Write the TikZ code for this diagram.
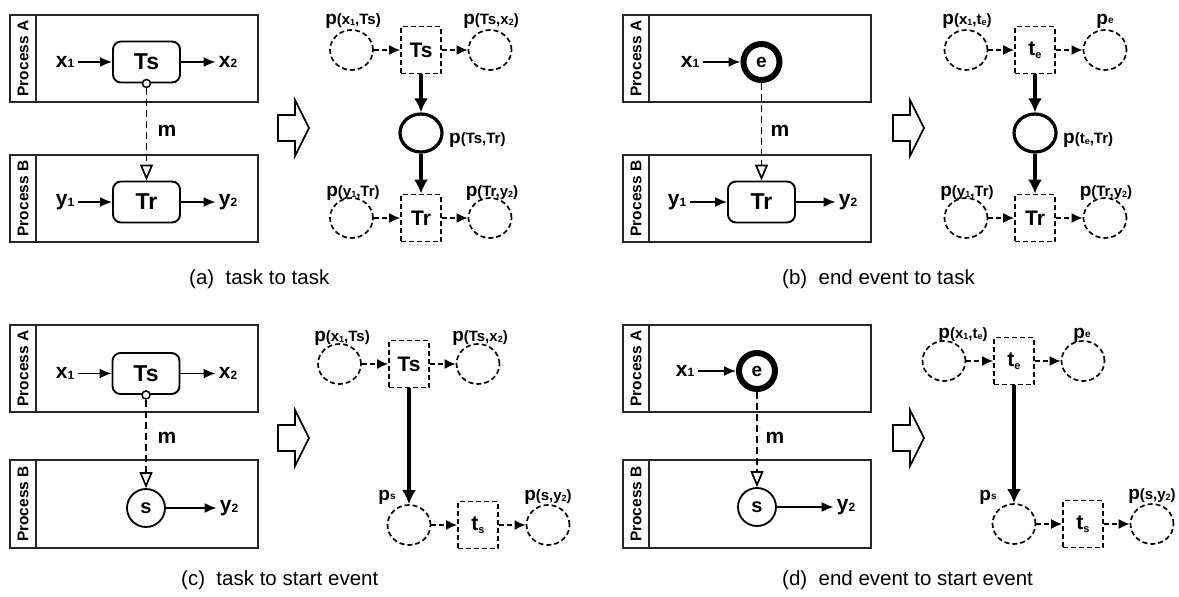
\documentclass[tikz,border=0pt]{standalone}
\usepackage{fontspec}
\setmainfont{Liberation Sans}
\usetikzlibrary{arrows.meta,shapes.geometric}
\newcommand\psub[1]{\raisebox{-0.04em}{\fontsize{12}{12}\selectfont #1}}
\newcommand\ssub[1]{\raisebox{-0.12em}{\fontsize{9}{9}\selectfont #1}}
\newcommand\tsub[2]{#1\raisebox{-0.12em}{\fontsize{11}{11}\selectfont #2}}
\newcommand\PL[1]{{\fontsize{19}{19}\selectfont p}{\fontsize{15}{15}\selectfont #1}}
\newcommand\PS[1]{{\fontsize{19}{19}\selectfont p}\raisebox{0.05em}{\fontsize{10}{10}\selectfont #1}}
\tikzset{
 frame/.style={draw=black!85, line width=2.2pt},
 task/.style={draw, rounded corners=8pt, minimum width=67pt, minimum height=41pt, line width=1.9pt, font=\bfseries\fontsize{23}{23}\selectfont, inner sep=0pt},
 pname/.style={font=\bfseries\fontsize{21}{21}\selectfont, inner sep=0pt},
 lanelbl/.style={rotate=90, font=\bfseries\fontsize{15.5}{15.5}\selectfont, inner sep=0pt},
 flow/.style={-{Latex[length=12pt,width=10pt]}, line width=1.8pt},
 msg/.style={dash pattern=on 7pt off 4pt, line width=1.7pt, -{Triangle[open,length=16pt,width=13pt,line width=1.7pt]}},
 place/.style={ellipse, draw, dash pattern=on 5pt off 3pt, line width=1.7pt, minimum width=43pt, minimum height=40pt, inner sep=0pt},
 trans/.style={rectangle, draw, dash pattern=on 5pt off 3pt, line width=1.7pt, minimum width=40pt, minimum height=47pt, inner sep=0pt, font=\bfseries\fontsize{21}{21}\selectfont},
 bigplace/.style={ellipse, draw, line width=3.2pt, minimum width=42pt, minimum height=38pt, inner sep=0pt},
 parc/.style={-{Latex[length=14pt,width=14pt]}, line width=3.2pt},
 darc/.style={-{Latex[length=11pt,width=10pt]}, line width=1.7pt, dash pattern=on 5pt off 3pt},
 endev/.style={circle, draw, line width=6pt, minimum size=36pt, inner sep=0pt, font=\bfseries\fontsize{19}{19}\selectfont},
 startev/.style={circle, draw, line width=1.8pt, minimum size=38pt, inner sep=0pt, font=\bfseries\fontsize{20}{20}\selectfont},
 conn/.style={circle, draw, fill=white, line width=1.5pt, minimum size=8pt, inner sep=0pt},
 blockarrow/.style={draw, line width=1.7pt, fill=white},
 captxt/.style={font=\fontsize{20.5}{20.5}\selectfont, inner sep=0pt, anchor=base west},
 plabel/.style={inner sep=0pt, anchor=base, font=\bfseries},
}
\begin{document}
\begin{tikzpicture}[x=1pt,y=-1pt]
\fill[white] (0,0) rectangle (1179,597);
\useasboundingbox (0,0) rectangle (1179,597);

% ================= (a) =================
\draw[frame] (10,15) rectangle (258,102);
\draw[frame] (36,15) -- (36,102);
\node[lanelbl] (aLA) at (23,58.5) {Process A};
\draw[frame] (10,155) rectangle (258,242);
\draw[frame] (36,155) -- (36,242);
\node[lanelbl] (aLB) at (23,198.5) {Process B};
\node[task] (aTs) at (146.5,62) {Ts};
\node[pname] (ax1) at (65,62) {x\psub{1}};
\node[pname] (ax2) at (228,62) {x\psub{2}};
\draw[flow, shorten <=4pt] (ax1) -- (aTs);
\draw[flow, shorten >=3pt] (aTs) -- (ax2);
\node[conn] (ac) at (aTs.south) {};
\node[task] (aTr) at (146.5,202) {Tr};
\draw[msg] (ac) -- (aTr);
\node[pname] (am) at (167,131) {m};
\node[pname] (ay1) at (65,202) {y\psub{1}};
\node[pname] (ay2) at (228,202) {y\psub{2}};
\draw[flow, shorten <=4pt] (ay1) -- (aTr);
\draw[flow, shorten >=3pt] (aTr) -- (ay2);

\draw[blockarrow] (278,115) -- (295,115) -- (295,100) -- (309,128) -- (295,156) -- (295,141) -- (278,141) -- cycle;

\node[place] (ap1) at (351.5,50) {};
\node[trans] (aTsP) at (421,50) {Ts};
\node[place] (ap2) at (490,50) {};
\node[bigplace] (apm) at (421,133) {};
\node[trans] (aTrP) at (421,218) {Tr};
\node[place] (ap3) at (351.5,218) {};
\node[place] (ap4) at (490,218) {};
\draw[darc] (ap1) -- (aTsP);
\draw[darc] (aTsP) -- (ap2);
\draw[parc] (aTsP) -- (apm);
\draw[parc] (apm) -- (aTrP);
\draw[darc] (ap3) -- (aTrP);
\draw[darc] (aTrP) -- (ap4);
\node[plabel] (ap1l) at (353,24) {\PL{(x\ssub{1},Ts)}};
\node[plabel] (ap2l) at (491,24) {\PL{(Ts,x\ssub{2})}};
\node[plabel, anchor=base west] (apml) at (449,143) {\PL{(Ts,Tr)}};
\node[plabel] (ap3l) at (353,196) {\PL{(y\ssub{1},Tr)}};
\node[plabel] (ap4l) at (492,196) {\PL{(Tr,y\ssub{2})}};

\node[captxt] (capA) at (189,284.5) {(a)\ \ task to task};

% ================= (b) =================
\draw[frame] (623,15) rectangle (871,102);
\draw[frame] (649,15) -- (649,102);
\node[lanelbl] (bLA) at (636,58.5) {Process A};
\draw[frame] (623,155) rectangle (871,242);
\draw[frame] (649,155) -- (649,242);
\node[lanelbl] (bLB) at (636,198.5) {Process B};
\node[endev] (be) at (761.5,62) {e};
\node[pname] (bx1) at (690,62) {x\psub{1}};
\draw[flow, shorten <=4pt] (bx1) -- (be);
\node[task] (bTr) at (761.5,202) {Tr};
\draw[msg] (be) -- (bTr);
\node[pname] (bm) at (780,131) {m};
\node[pname] (by1) at (677,202) {y\psub{1}};
\node[pname] (by2) at (848,202) {y\psub{2}};
\draw[flow, shorten <=4pt] (by1) -- (bTr);
\draw[flow, shorten >=3pt] (bTr) -- (by2);

\draw[blockarrow] (893,115) -- (910,115) -- (910,100) -- (924,128) -- (910,156) -- (910,141) -- (893,141) -- cycle;

\node[place] (bp1) at (966,50) {};
\node[trans] (bte) at (1035,50) {\tsub{t}{e}};
\node[place] (bp2) at (1105,50) {};
\node[bigplace] (bpm) at (1035,133) {};
\node[trans] (bTrP) at (1035,218) {Tr};
\node[place] (bp3) at (966,218) {};
\node[place] (bp4) at (1105,218) {};
\draw[darc] (bp1) -- (bte);
\draw[darc] (bte) -- (bp2);
\draw[parc] (bte) -- (bpm);
\draw[parc] (bpm) -- (bTrP);
\draw[darc] (bp3) -- (bTrP);
\draw[darc] (bTrP) -- (bp4);
\node[plabel] (bp1l) at (967,24) {\PL{(x\ssub{1},t\ssub{e})}};
\node[plabel] (bp2l) at (1105,24) {\PS{e}};
\node[plabel, anchor=base west] (bpml) at (1063,143) {\PL{(t\ssub{e},Tr)}};
\node[plabel] (bp3l) at (967,196) {\PL{(y\ssub{1},Tr)}};
\node[plabel] (bp4l) at (1106,196) {\PL{(Tr,y\ssub{2})}};

\node[captxt] (capB) at (782,284.5) {(b)\ \ end event to task};

% ================= (c) =================
\draw[frame] (10,325) rectangle (258,412);
\draw[frame] (36,325) -- (36,412);
\node[lanelbl] (cLA) at (23,368.5) {Process A};
\draw[frame] (10,460) rectangle (258,548);
\draw[frame] (36,460) -- (36,548);
\node[lanelbl] (cLB) at (23,504) {Process B};
\node[task] (cTs) at (146,373.5) {Ts};
\node[pname] (cx1) at (65,373.5) {x\psub{1}};
\node[pname] (cx2) at (228,373.5) {x\psub{2}};
\draw[flow, shorten <=4pt] (cx1) -- (cTs);
\draw[flow, shorten >=3pt] (cTs) -- (cx2);
\node[conn] (cc) at (cTs.south) {};
\node[startev] (cs) at (146,508) {s};
\draw[msg] (cc) -- (cs);
\node[pname] (cm) at (167,438) {m};
\node[pname] (cy2) at (229,508) {y\psub{2}};
\draw[flow, shorten >=3pt] (cs) -- (cy2);

\draw[blockarrow] (278,425) -- (295,425) -- (295,410) -- (309,438) -- (295,466) -- (295,451) -- (278,451) -- cycle;

\node[place] (cp1) at (339.5,364) {};
\node[trans] (cTsP) at (409,364) {Ts};
\node[place] (cp2) at (478,364) {};
\node[place] (cps) at (409,525) {};
\node[trans] (cts) at (478,525) {\tsub{t}{s}};
\node[place] (cp3) at (548,525) {};
\draw[darc] (cp1) -- (cTsP);
\draw[darc] (cTsP) -- (cp2);
\draw[parc] (cTsP) -- (cps);
\draw[darc] (cps) -- (cts);
\draw[darc] (cts) -- (cp3);
\node[plabel] (cp1l) at (342,341) {\PL{(x\ssub{1},Ts)}};
\node[plabel] (cp2l) at (480,341) {\PL{(Ts,x\ssub{2})}};
\node[plabel] (cpsl) at (387,500) {\PS{s}};
\node[plabel] (cp3l) at (548,500) {\PL{(s,y\ssub{2})}};

\node[captxt] (capC) at (181,585) {(c)\ \ task to start event};

% ================= (d) =================
\draw[frame] (623,325) rectangle (871,412);
\draw[frame] (649,325) -- (649,412);
\node[lanelbl] (dLA) at (636,368.5) {Process A};
\draw[frame] (623,460) rectangle (871,548);
\draw[frame] (649,460) -- (649,548);
\node[lanelbl] (dLB) at (636,504) {Process B};
\node[endev] (de) at (757,371) {e};
\node[pname] (dx1) at (685,371) {x\psub{1}};
\draw[flow, shorten <=4pt] (dx1) -- (de);
\node[startev] (ds) at (757,507) {s};
\draw[msg] (de) -- (ds);
\node[pname] (dm) at (775,438) {m};
\node[pname] (dy2) at (846,507) {y\psub{2}};
\draw[flow, shorten >=3pt] (ds) -- (dy2);

\draw[blockarrow] (893,425) -- (910,425) -- (910,410) -- (924,438) -- (910,466) -- (910,451) -- (893,451) -- cycle;

\node[place] (dp1) at (944,361) {};
\node[trans] (dte) at (1014,361) {\tsub{t}{e}};
\node[place] (dp2) at (1083,361) {};
\node[place] (dps) at (1014,524) {};
\node[trans] (dts) at (1083,524) {\tsub{t}{s}};
\node[place] (dp3) at (1152,524) {};
\draw[darc] (dp1) -- (dte);
\draw[darc] (dte) -- (dp2);
\draw[parc] (dte) -- (dps);
\draw[darc] (dps) -- (dts);
\draw[darc] (dts) -- (dp3);
\node[plabel] (dp1l) at (963,338) {\PL{(x\ssub{1},t\ssub{e})}};
\node[plabel] (dp2l) at (1082,338) {\PS{e}};
\node[plabel] (dpsl) at (988,500) {\PS{s}};
\node[plabel] (dp3l) at (1152,499) {\PL{(s,y\ssub{2})}};

\node[captxt] (capD) at (782,585) {(d)\ \ end event to start event};
\end{tikzpicture}
\end{document}
